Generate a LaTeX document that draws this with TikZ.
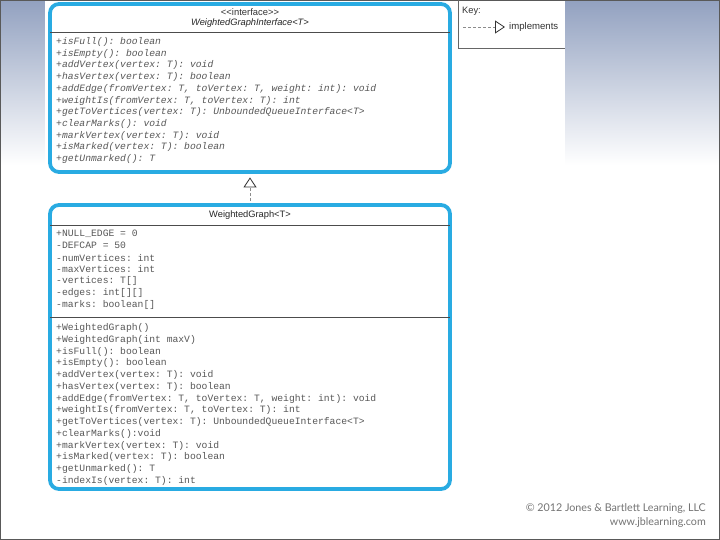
\documentclass[tikz,border=0pt]{standalone}
\usepackage{fontspec}
\setmainfont{Liberation Sans}
\setmonofont{Liberation Mono}
\newfontfamily\copyfont{Lato}
\usetikzlibrary{arrows.meta}
\definecolor{umlblue}{RGB}{41,171,226}
\definecolor{slidegray}{RGB}{146,161,192}
\definecolor{membergray}{RGB}{88,88,88}
\begin{document}
\begin{tikzpicture}[x=1pt, y=-1pt,
    umlbox/.style={draw=umlblue, line width=3.8pt, rounded corners=9pt, fill=white, inner sep=0pt},
    sepline/.style={draw=black!70, line width=0.9pt},
    member/.style={anchor=west, inner sep=0pt, text=membergray, font=\fontsize{9.7}{10}\selectfont\ttfamily},
    implements/.style={draw=black!45, dash pattern=on 3pt off 2pt, -{Triangle[open, length=10pt, width=13pt, line width=0.8pt, black!80]}}]
    \useasboundingbox (0,0) rectangle (720,540);
    % slide background
    \shade[top color=slidegray, bottom color=white] (0,0) rectangle (720,165);
    \fill[white] (45,0) rectangle (565,540);
    \draw[black!65, line width=1pt] (0.5,0.5) rectangle (719.5,539.5);
    % key
    \draw[black!60, line width=0.6pt] (458,0) -- (458,48) -- (565,48);
    \node[anchor=west, inner sep=0pt, text=black!80, font=\fontsize{9.3}{10}\selectfont] (keylbl) at (462,11) {Key:};
    \coordinate (keyA) at (463,27);
    \coordinate (keyB) at (505,27);
    \draw[implements] (keyA) -- (keyB);
    \node[anchor=west, inner sep=0pt, text=black!80, font=\fontsize{9.6}{10}\selectfont] (keytxt) at (509,27.5) {implements};
    % interface box
    \node[umlbox, minimum width=400pt, minimum height=168pt] (iface) at (250,88) {};
    \node[font=\fontsize{9.4}{10}\selectfont, text=black!80] (stereo) at (250,12) {<{}<interface>{}>};
    \node[font=\fontsize{9.3}{10}\selectfont\itshape, text=black!85] (ifname) at (250,23.5) {WeightedGraphInterface<T>};
    \draw[sepline] (50,32) -- (450,32);
    \foreach \t [count=\k] in {+isFull(): boolean, +isEmpty(): boolean, +addVertex(vertex: T): void,
        +hasVertex(vertex: T): boolean, {+addEdge(fromVertex: T, toVertex: T, weight: int): void},
        {+weightIs(fromVertex: T, toVertex: T): int}, +getToVertices(vertex: T): UnboundedQueueInterface<T>,
        +clearMarks(): void, +markVertex(vertex: T): void, +isMarked(vertex: T): boolean, +getUnmarked(): T} {
        \node[member, font=\fontsize{9.7}{10}\selectfont\ttfamily\itshape] (im\k) at (56,{30.3+11.7*\k}) {\t};
    }
    % class box
    \node[umlbox, minimum width=400pt, minimum height=284pt] (graph) at (250,347) {};
    \node[font=\fontsize{9.3}{10}\selectfont, text=black!85] (gname) at (250,215) {WeightedGraph<T>};
    \draw[sepline] (50,225) -- (450,225);
    \foreach \t [count=\k] in {+NULL\_EDGE = 0, -DEFCAP = 50, -numVertices: int, -maxVertices: int,
        -vertices: T[], -edges: int[][], -marks: boolean[]} {
        \node[member] (ga\k) at (56,{222.2+11.8*\k}) {\t};
    }
    \draw[sepline] (50,317) -- (450,317);
    \foreach \t [count=\k] in {+WeightedGraph(), +WeightedGraph(int maxV), +isFull(): boolean,
        +isEmpty(): boolean, +addVertex(vertex: T): void, +hasVertex(vertex: T): boolean,
        {+addEdge(fromVertex: T, toVertex: T, weight: int): void}, {+weightIs(fromVertex: T, toVertex: T): int},
        +getToVertices(vertex: T): UnboundedQueueInterface<T>, +clearMarks():void, +markVertex(vertex: T): void,
        +isMarked(vertex: T): boolean, +getUnmarked(): T, -indexIs(vertex: T): int} {
        \node[member] (gm\k) at (56,{316.3+11.75*\k}) {\t};
    }
    % realization
    \draw[implements, shorten >=3.5pt, shorten <=2pt] (graph.north) -- (iface.south);
    % copyright
    \node[anchor=east, inner sep=0pt, text=black!55, font=\fontsize{10.7}{12}\selectfont\copyfont] (copy1) at (706,509) {© 2012 Jones \& Bartlett Learning, LLC};
    \node[anchor=east, inner sep=0pt, text=black!55, font=\fontsize{10.7}{12}\selectfont\copyfont] (copy2) at (706,523) {www.jblearning.com};
\end{tikzpicture}
\end{document}
